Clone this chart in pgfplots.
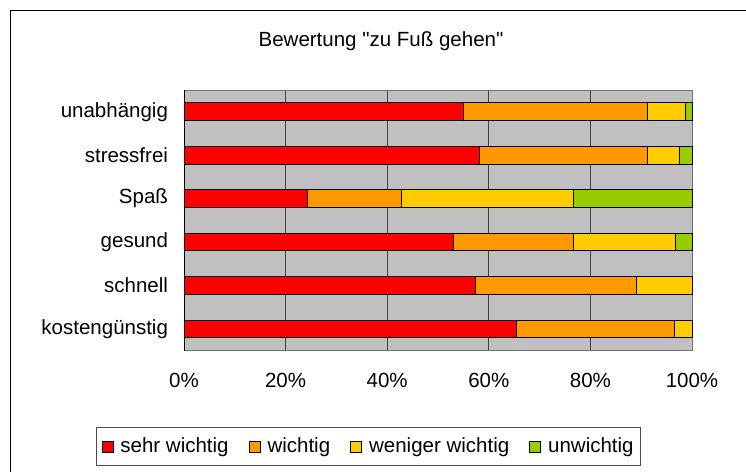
\documentclass[border=0pt]{standalone}
\usepackage{fontspec}
\setmainfont{Liberation Sans}
\newfontfamily\plainfont{Liberation Sans}
\usepackage{pgfplots}
\pgfplotsset{compat=1.18}
\definecolor{cRed}{RGB}{255,0,0}
\definecolor{cOrange}{RGB}{255,153,0}
\definecolor{cYellow}{RGB}{255,204,0}
\definecolor{cGreen}{RGB}{153,204,0}
\definecolor{cBack}{RGB}{192,192,192}
\begin{document}
\fontsize{20.5}{24}\selectfont
\begin{tikzpicture}
\useasboundingbox (0pt,0pt) rectangle (746pt,-471pt);
\fill[white] (0pt,0pt) rectangle (746pt,-471pt);
\draw[black, line width=1pt] (10pt,-480pt) -- (10pt,-10pt) -- (760pt,-10pt);
\node[anchor=base, font=\plainfont\fontsize{20.5}{24}\selectfont] at (381pt,-46.5pt) {Bewertung "zu Fuß gehen"};
\begin{axis}[
  at={(184pt,-350.7pt)}, anchor=south west,
  scale only axis,
  width=508pt, height=260.7pt,
  xbar stacked,
  bar width=0.41,
  xmin=0, xmax=100,
  ymin=-0.5, ymax=5.5,
  axis background/.style={fill=cBack},
  axis line style={draw=gray!90!black, line width=0.8pt},
  xtick={0,20,40,60,80,100},
  xticklabels={0\%,20\%,40\%,60\%,80\%,100\%},
  xmajorgrids,
  major grid style={draw=black!75, line width=0.8pt},
  xtick style={draw=none},
  xticklabel style={yshift=-15pt},
  ytick={0,1,2,3,4,5},
  yticklabels={kostengünstig,schnell,gesund,Spaß,stressfrei,unabhängig},
  ytick style={draw=none},
  yticklabel style={xshift=-9pt},
  extra y ticks={-0.5,0.5,1.5,2.5,3.5,4.5,5.5},
  extra y tick labels={},
  extra y tick style={grid=none, tick align=outside, major tick length=6pt, tick style={draw=black, line width=0.8pt}},
  extra x ticks={0,100},
  extra x tick labels={},
  extra x tick style={grid=none, tick align=outside, major tick length=5pt, tick style={draw=gray!90!black, line width=0.8pt}},
  legend columns=4,
  legend style={at={(axis description cs:-0.173,-0.293)}, anchor=north west, draw=black!70, line width=0.8pt,
    inner xsep=5pt, inner ysep=8pt,
    /tikz/every odd column/.append style={column sep=5pt},
    /tikz/every even column/.append style={column sep=18pt},
    font=\fontsize{20.5}{24}\selectfont},
  legend image code/.code={\draw[#1, draw=black, line width=0.9pt] (0pt,-5.5pt) rectangle (11pt,5.5pt);},
  every axis plot/.append style={draw=black, line width=1pt},
  clip=false,
]
\addplot[fill=cRed] coordinates {(65.4,0) (57.4,1) (53.1,2) (24.3,3) (58.2,4) (55.1,5)};
\addplot[fill=cOrange] coordinates {(31.1,0) (31.6,1) (23.6,2) (18.5,3) (33.1,4) (36.2,5)};
\addplot[fill=cYellow] coordinates {(3.5,0) (11.0,1) (20.1,2) (33.9,3) (6.3,4) (7.4,5)};
\addplot[fill=cGreen] coordinates {(0,0) (0,1) (3.2,2) (23.3,3) (2.4,4) (1.3,5)};
\legend{sehr wichtig, wichtig, weniger wichtig, unwichtig}
\draw[black, line width=0.8pt] (axis cs:0,-0.5) -- (axis cs:0,5.5);
\end{axis}
\end{tikzpicture}
\end{document}
